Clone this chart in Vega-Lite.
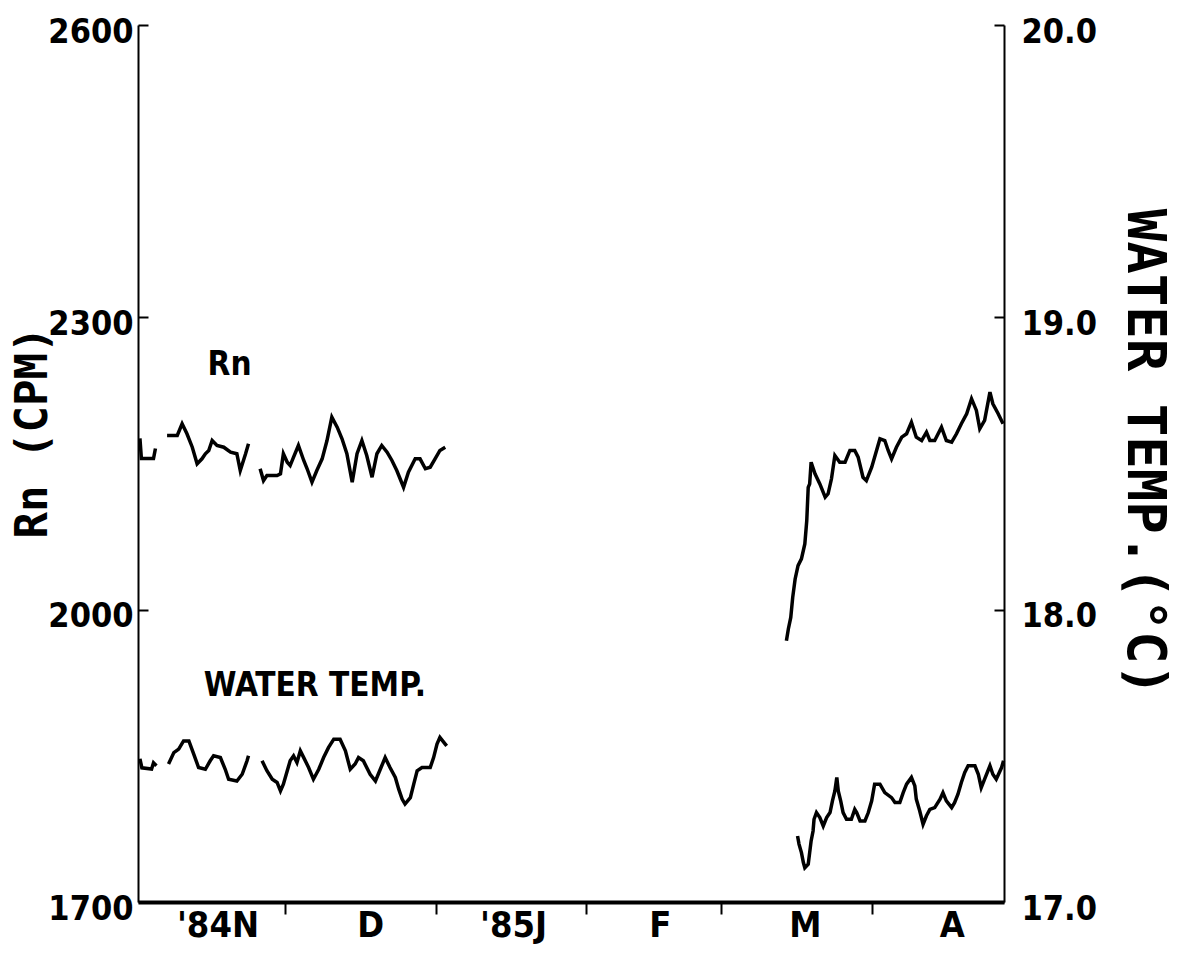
{
  "$schema": "https://vega.github.io/schema/vega-lite/v6.json",
  "width": 866,
  "height": 877,
  "autosize": {"type": "none"},
  "padding": {"left": 138, "top": 25, "right": 175, "bottom": 54},
  "background": "white",
  "config": {
    "view": {"stroke": null},
    "axis": {
      "grid": false,
      "domainColor": "black",
      "tickColor": "black",
      "labelColor": "black",
      "titleColor": "black",
      "labelFont": "DejaVu Sans Condensed, DejaVu Sans",
      "labelFontSize": 34,
      "labelFontWeight": "bold",
      "labelFlush": false,
      "labelOverlap": false,
      "labelBound": false,
      "titleFont": "DejaVu Sans Mono",
      "titleFontWeight": "bold",
      "titleFontSize": 54
    }
  },
  "datasets": {
    "rn": [
      {"segment": 1, "day": 0, "cpm": 2175.7}, {"segment": 1, "day": 0.3, "cpm": 2155.1}, {"segment": 1, "day": 2.8, "cpm": 2155.1}, {"segment": 1, "day": 3.2, "cpm": 2165.4},
      {"segment": 2, "day": 5.6, "cpm": 2178.8}, {"segment": 2, "day": 7.7, "cpm": 2178.8}, {"segment": 2, "day": 8.7, "cpm": 2190.8}, {"segment": 2, "day": 9.7, "cpm": 2180.5}, {"segment": 2, "day": 10.8, "cpm": 2166.7}, {"segment": 2, "day": 11.8, "cpm": 2149.7}, {"segment": 2, "day": 12.8, "cpm": 2154.8}, {"segment": 2, "day": 13.5, "cpm": 2160.0}, {"segment": 2, "day": 14.2, "cpm": 2163.4}, {"segment": 2, "day": 14.9, "cpm": 2173.6}, {"segment": 2, "day": 15.9, "cpm": 2168.5}, {"segment": 2, "day": 17.3, "cpm": 2166.7}, {"segment": 2, "day": 18.7, "cpm": 2161.6}, {"segment": 2, "day": 20.0, "cpm": 2160.0}, {"segment": 2, "day": 20.7, "cpm": 2142.8}, {"segment": 2, "day": 21.8, "cpm": 2160.0}, {"segment": 2, "day": 22.4, "cpm": 2170.2},
      {"segment": 3, "day": 24.8, "cpm": 2144.6}, {"segment": 3, "day": 25.5, "cpm": 2132.5}, {"segment": 3, "day": 26.2, "cpm": 2137.7}, {"segment": 3, "day": 28.3, "cpm": 2137.7}, {"segment": 3, "day": 29.0, "cpm": 2139.4}, {"segment": 3, "day": 29.6, "cpm": 2160.0}, {"segment": 3, "day": 30.4, "cpm": 2151.3}, {"segment": 3, "day": 31.0, "cpm": 2147.9}, {"segment": 3, "day": 31.7, "cpm": 2156.5}, {"segment": 3, "day": 32.7, "cpm": 2168.5}, {"segment": 3, "day": 33.8, "cpm": 2153.1}, {"segment": 3, "day": 34.5, "cpm": 2144.6}, {"segment": 3, "day": 35.5, "cpm": 2130.8}, {"segment": 3, "day": 36.5, "cpm": 2142.8}, {"segment": 3, "day": 37.6, "cpm": 2154.8}, {"segment": 3, "day": 38.6, "cpm": 2173.6}, {"segment": 3, "day": 39.6, "cpm": 2197.6}, {"segment": 3, "day": 40.7, "cpm": 2187.3}, {"segment": 3, "day": 41.7, "cpm": 2175.4}, {"segment": 3, "day": 42.7, "cpm": 2160.0}, {"segment": 3, "day": 43.8, "cpm": 2130.8}, {"segment": 3, "day": 44.8, "cpm": 2160.0}, {"segment": 3, "day": 45.8, "cpm": 2173.6}, {"segment": 3, "day": 46.8, "cpm": 2158.2}, {"segment": 3, "day": 47.9, "cpm": 2135.9}, {"segment": 3, "day": 48.9, "cpm": 2160.0}, {"segment": 3, "day": 49.9, "cpm": 2168.5}, {"segment": 3, "day": 51.0, "cpm": 2161.6}, {"segment": 3, "day": 52.0, "cpm": 2153.1}, {"segment": 3, "day": 53.0, "cpm": 2142.8}, {"segment": 3, "day": 54.4, "cpm": 2125.6}, {"segment": 3, "day": 55.4, "cpm": 2141.1}, {"segment": 3, "day": 56.8, "cpm": 2154.8}, {"segment": 3, "day": 57.8, "cpm": 2154.8}, {"segment": 3, "day": 58.9, "cpm": 2144.6}, {"segment": 3, "day": 59.9, "cpm": 2146.2}, {"segment": 3, "day": 60.9, "cpm": 2154.8}, {"segment": 3, "day": 61.9, "cpm": 2163.4}, {"segment": 3, "day": 63.0, "cpm": 2166.7},
      {"segment": 4, "day": 133.4, "cpm": 1968.1}, {"segment": 4, "day": 133.8, "cpm": 1980.2}, {"segment": 4, "day": 134.3, "cpm": 1992.1}, {"segment": 4, "day": 134.7, "cpm": 2012.6}, {"segment": 4, "day": 135.2, "cpm": 2031.5}, {"segment": 4, "day": 135.8, "cpm": 2045.2}, {"segment": 4, "day": 136.5, "cpm": 2052.1}, {"segment": 4, "day": 137.2, "cpm": 2067.5}, {"segment": 4, "day": 137.6, "cpm": 2091.4}, {"segment": 4, "day": 137.9, "cpm": 2125.6}, {"segment": 4, "day": 138.2, "cpm": 2129.1}, {"segment": 4, "day": 138.5, "cpm": 2151.3}, {"segment": 4, "day": 139.3, "cpm": 2139.4}, {"segment": 4, "day": 140.3, "cpm": 2129.1}, {"segment": 4, "day": 141.4, "cpm": 2115.4}, {"segment": 4, "day": 142.0, "cpm": 2118.9}, {"segment": 4, "day": 142.7, "cpm": 2134.3}, {"segment": 4, "day": 143.4, "cpm": 2158.2}, {"segment": 4, "day": 144.4, "cpm": 2151.3}, {"segment": 4, "day": 145.5, "cpm": 2151.3}, {"segment": 4, "day": 146.5, "cpm": 2163.4}, {"segment": 4, "day": 147.5, "cpm": 2163.4}, {"segment": 4, "day": 148.2, "cpm": 2156.5}, {"segment": 4, "day": 149.2, "cpm": 2135.9}, {"segment": 4, "day": 149.9, "cpm": 2132.5}, {"segment": 4, "day": 151.0, "cpm": 2146.2}, {"segment": 4, "day": 152.0, "cpm": 2163.4}, {"segment": 4, "day": 152.7, "cpm": 2175.4}, {"segment": 4, "day": 153.7, "cpm": 2173.6}, {"segment": 4, "day": 154.4, "cpm": 2163.4}, {"segment": 4, "day": 155.1, "cpm": 2154.8}, {"segment": 4, "day": 156.1, "cpm": 2166.7}, {"segment": 4, "day": 157.2, "cpm": 2177.0}, {"segment": 4, "day": 158.2, "cpm": 2180.5}, {"segment": 4, "day": 159.2, "cpm": 2192.4}, {"segment": 4, "day": 160.2, "cpm": 2177.0}, {"segment": 4, "day": 161.3, "cpm": 2173.6}, {"segment": 4, "day": 162.3, "cpm": 2182.2}, {"segment": 4, "day": 163.0, "cpm": 2173.6}, {"segment": 4, "day": 164.0, "cpm": 2173.6}, {"segment": 4, "day": 165.4, "cpm": 2187.3}, {"segment": 4, "day": 166.4, "cpm": 2173.6}, {"segment": 4, "day": 167.5, "cpm": 2171.9}, {"segment": 4, "day": 168.5, "cpm": 2180.5}, {"segment": 4, "day": 169.5, "cpm": 2190.8}, {"segment": 4, "day": 170.6, "cpm": 2201.1}, {"segment": 4, "day": 171.6, "cpm": 2216.5}, {"segment": 4, "day": 172.6, "cpm": 2204.5}, {"segment": 4, "day": 173.3, "cpm": 2185.6}, {"segment": 4, "day": 174.3, "cpm": 2194.2}, {"segment": 4, "day": 175.4, "cpm": 2223.3}, {"segment": 4, "day": 176.0, "cpm": 2211.3}, {"segment": 4, "day": 177.1, "cpm": 2201.1}, {"segment": 4, "day": 178.1, "cpm": 2190.8}
    ],
    "temp": [
      {"segment": 1, "day": 0, "temp": 17.490}, {"segment": 1, "day": 0.4, "temp": 17.459}, {"segment": 1, "day": 2.4, "temp": 17.455}, {"segment": 1, "day": 2.8, "temp": 17.476}, {"segment": 1, "day": 3.4, "temp": 17.466},
      {"segment": 2, "day": 5.9, "temp": 17.472}, {"segment": 2, "day": 7.0, "temp": 17.511}, {"segment": 2, "day": 8.0, "temp": 17.523}, {"segment": 2, "day": 9.0, "temp": 17.551}, {"segment": 2, "day": 10.1, "temp": 17.551}, {"segment": 2, "day": 11.1, "temp": 17.506}, {"segment": 2, "day": 12.1, "temp": 17.460}, {"segment": 2, "day": 13.5, "temp": 17.454}, {"segment": 2, "day": 14.5, "temp": 17.483}, {"segment": 2, "day": 15.2, "temp": 17.500}, {"segment": 2, "day": 16.6, "temp": 17.494}, {"segment": 2, "day": 17.6, "temp": 17.454}, {"segment": 2, "day": 18.3, "temp": 17.420}, {"segment": 2, "day": 20.0, "temp": 17.414}, {"segment": 2, "day": 21.1, "temp": 17.437}, {"segment": 2, "day": 22.1, "temp": 17.483}, {"segment": 2, "day": 22.4, "temp": 17.500},
      {"segment": 3, "day": 25.2, "temp": 17.483}, {"segment": 3, "day": 26.2, "temp": 17.449}, {"segment": 3, "day": 27.3, "temp": 17.420}, {"segment": 3, "day": 28.3, "temp": 17.409}, {"segment": 3, "day": 29.0, "temp": 17.380}, {"segment": 3, "day": 29.6, "temp": 17.403}, {"segment": 3, "day": 30.4, "temp": 17.449}, {"segment": 3, "day": 31.0, "temp": 17.483}, {"segment": 3, "day": 31.7, "temp": 17.500}, {"segment": 3, "day": 32.4, "temp": 17.477}, {"segment": 3, "day": 33.1, "temp": 17.517}, {"segment": 3, "day": 33.8, "temp": 17.494}, {"segment": 3, "day": 34.8, "temp": 17.460}, {"segment": 3, "day": 35.8, "temp": 17.420}, {"segment": 3, "day": 36.9, "temp": 17.454}, {"segment": 3, "day": 37.9, "temp": 17.494}, {"segment": 3, "day": 38.9, "temp": 17.528}, {"segment": 3, "day": 40.0, "temp": 17.557}, {"segment": 3, "day": 41.3, "temp": 17.557}, {"segment": 3, "day": 42.4, "temp": 17.517}, {"segment": 3, "day": 43.4, "temp": 17.454}, {"segment": 3, "day": 44.4, "temp": 17.472}, {"segment": 3, "day": 45.1, "temp": 17.494}, {"segment": 3, "day": 46.1, "temp": 17.483}, {"segment": 3, "day": 47.5, "temp": 17.437}, {"segment": 3, "day": 48.6, "temp": 17.414}, {"segment": 3, "day": 49.6, "temp": 17.454}, {"segment": 3, "day": 50.6, "temp": 17.494}, {"segment": 3, "day": 51.6, "temp": 17.460}, {"segment": 3, "day": 52.7, "temp": 17.426}, {"segment": 3, "day": 53.4, "temp": 17.386}, {"segment": 3, "day": 54.1, "temp": 17.352}, {"segment": 3, "day": 54.7, "temp": 17.335}, {"segment": 3, "day": 55.8, "temp": 17.357}, {"segment": 3, "day": 56.5, "temp": 17.403}, {"segment": 3, "day": 57.2, "temp": 17.449}, {"segment": 3, "day": 58.2, "temp": 17.460}, {"segment": 3, "day": 59.9, "temp": 17.460}, {"segment": 3, "day": 60.6, "temp": 17.494}, {"segment": 3, "day": 61.3, "temp": 17.540}, {"segment": 3, "day": 61.9, "temp": 17.563}, {"segment": 3, "day": 63.0, "temp": 17.540}, {"segment": 3, "day": 63.3, "temp": 17.534},
      {"segment": 4, "day": 135.7, "temp": 17.226}, {"segment": 4, "day": 136.0, "temp": 17.198}, {"segment": 4, "day": 136.5, "temp": 17.169}, {"segment": 4, "day": 136.9, "temp": 17.135}, {"segment": 4, "day": 137.2, "temp": 17.117}, {"segment": 4, "day": 137.9, "temp": 17.129}, {"segment": 4, "day": 138.2, "temp": 17.169}, {"segment": 4, "day": 138.5, "temp": 17.209}, {"segment": 4, "day": 138.9, "temp": 17.243}, {"segment": 4, "day": 139.1, "temp": 17.283}, {"segment": 4, "day": 139.6, "temp": 17.306}, {"segment": 4, "day": 140.3, "temp": 17.289}, {"segment": 4, "day": 141.0, "temp": 17.260}, {"segment": 4, "day": 141.7, "temp": 17.289}, {"segment": 4, "day": 142.4, "temp": 17.306}, {"segment": 4, "day": 142.9, "temp": 17.346}, {"segment": 4, "day": 143.4, "temp": 17.380}, {"segment": 4, "day": 143.8, "temp": 17.426}, {"segment": 4, "day": 144.1, "temp": 17.380}, {"segment": 4, "day": 144.6, "temp": 17.346}, {"segment": 4, "day": 145.1, "temp": 17.306}, {"segment": 4, "day": 145.8, "temp": 17.283}, {"segment": 4, "day": 146.8, "temp": 17.283}, {"segment": 4, "day": 147.5, "temp": 17.317}, {"segment": 4, "day": 147.9, "temp": 17.306}, {"segment": 4, "day": 148.6, "temp": 17.277}, {"segment": 4, "day": 149.6, "temp": 17.277}, {"segment": 4, "day": 150.3, "temp": 17.306}, {"segment": 4, "day": 151.0, "temp": 17.346}, {"segment": 4, "day": 151.6, "temp": 17.403}, {"segment": 4, "day": 152.7, "temp": 17.403}, {"segment": 4, "day": 153.7, "temp": 17.374}, {"segment": 4, "day": 155.1, "temp": 17.357}, {"segment": 4, "day": 155.8, "temp": 17.340}, {"segment": 4, "day": 156.8, "temp": 17.340}, {"segment": 4, "day": 157.5, "temp": 17.374}, {"segment": 4, "day": 158.2, "temp": 17.403}, {"segment": 4, "day": 159.2, "temp": 17.426}, {"segment": 4, "day": 159.9, "temp": 17.397}, {"segment": 4, "day": 160.2, "temp": 17.352}, {"segment": 4, "day": 160.9, "temp": 17.312}, {"segment": 4, "day": 161.6, "temp": 17.266}, {"segment": 4, "day": 162.3, "temp": 17.295}, {"segment": 4, "day": 163.0, "temp": 17.317}, {"segment": 4, "day": 164.0, "temp": 17.323}, {"segment": 4, "day": 165.1, "temp": 17.352}, {"segment": 4, "day": 165.7, "temp": 17.374}, {"segment": 4, "day": 166.4, "temp": 17.346}, {"segment": 4, "day": 167.5, "temp": 17.323}, {"segment": 4, "day": 168.1, "temp": 17.340}, {"segment": 4, "day": 168.8, "temp": 17.369}, {"segment": 4, "day": 169.5, "temp": 17.409}, {"segment": 4, "day": 170.2, "temp": 17.443}, {"segment": 4, "day": 170.9, "temp": 17.466}, {"segment": 4, "day": 172.3, "temp": 17.466}, {"segment": 4, "day": 173.0, "temp": 17.437}, {"segment": 4, "day": 173.6, "temp": 17.391}, {"segment": 4, "day": 174.3, "temp": 17.420}, {"segment": 4, "day": 175.4, "temp": 17.466}, {"segment": 4, "day": 176.0, "temp": 17.437}, {"segment": 4, "day": 176.7, "temp": 17.420}, {"segment": 4, "day": 177.8, "temp": 17.460}, {"segment": 4, "day": 178.2, "temp": 17.483}
    ],
    "notes": [
      {"label": "Rn", "day": 18.5, "cpm": 2251},
      {"label": "WATER TEMP.", "day": 36.1, "cpm": 1921.6}
    ]
  },
  "layer": [
    {
      "layer": [
        {
          "data": {"name": "rn"},
          "mark": {"type": "line", "color": "black", "strokeWidth": 3.5, "strokeJoin": "miter"},
          "encoding": {
            "x": {
              "field": "day", "type": "quantitative", "title": null,
              "scale": {"domain": [-0.4, 178.3], "nice": false, "zero": false},
              "axis": {
                "orient": "bottom",
                "title": null,
                "values": [16, 30, 47.5, 61, 77, 92, 107.3, 120, 137.2, 151, 167.5],
                "labelExpr": "datum.value == 16 ? \"'84N\" : datum.value == 47.5 ? 'D' : datum.value == 77 ? \"'85J\" : datum.value == 107.3 ? 'F' : datum.value == 137.2 ? 'M' : datum.value == 167.5 ? 'A' : ''",
                "tickOpacity": {"condition": {"test": "datum.value == 30 || datum.value == 61 || datum.value == 92 || datum.value == 120 || datum.value == 151", "value": 1}, "value": 0},
                "tickSize": 12,
                "tickWidth": 2,
                "domainWidth": 4,
                "labelPadding": -6,
                "labelBaseline": "top",
                "labelAlign": "center",
                "labelFontSize": 36
              }
            },
            "y": {
              "field": "cpm", "type": "quantitative", "title": "Rn (CPM)",
              "scale": {"domain": [1700, 2600], "nice": false, "zero": false},
              "axis": {
                "title": "Rn (CPM)",
                "values": [1700, 2000, 2300, 2600],
                "format": "d",
                "tickSize": -10,
                "tickWidth": 2,
                "domainWidth": 2,
                "labelPadding": 15,
                "labelOffset": 7,
                "titleFontSize": 44,
                "titleX": -105,
                "titleY": 407,
                "titleAngle": -90,
                "titleAlign": "center",
                "titleBaseline": "middle"
              }
            },
            "detail": {"field": "segment", "type": "nominal"}
          }
        },
        {
          "data": {"name": "notes"},
          "mark": {"type": "text", "color": "black", "font": "DejaVu Sans Condensed, DejaVu Sans", "fontSize": 33, "fontWeight": "bold", "align": "center", "baseline": "middle"},
          "encoding": {
            "x": {"field": "day", "type": "quantitative", "title": null},
            "y": {"field": "cpm", "type": "quantitative", "title": "Rn (CPM)"},
            "text": {"field": "label", "type": "nominal"}
          }
        }
      ]
    },
    {
      "data": {"name": "temp"},
      "mark": {"type": "line", "color": "black", "strokeWidth": 3.5, "strokeJoin": "miter"},
      "encoding": {
        "x": {"field": "day", "type": "quantitative", "title": null},
        "y": {
          "field": "temp", "type": "quantitative", "title": "WATER TEMP.(°C)",
          "scale": {"domain": [17, 20], "nice": false, "zero": false},
          "axis": {
            "orient": "right",
            "title": "WATER TEMP.(°C)",
            "values": [17, 18, 19, 20],
            "format": ".1f",
            "tickSize": -10,
            "tickWidth": 2,
            "domainWidth": 2,
            "labelPadding": 27,
            "labelOffset": 7,
            "titleX": 139,
            "titleY": 427,
            "titleAngle": 90,
            "titleAlign": "center",
            "titleBaseline": "middle"
          }
        },
        "detail": {"field": "segment", "type": "nominal"}
      }
    }
  ],
  "resolve": {"scale": {"y": "independent"}}
}
